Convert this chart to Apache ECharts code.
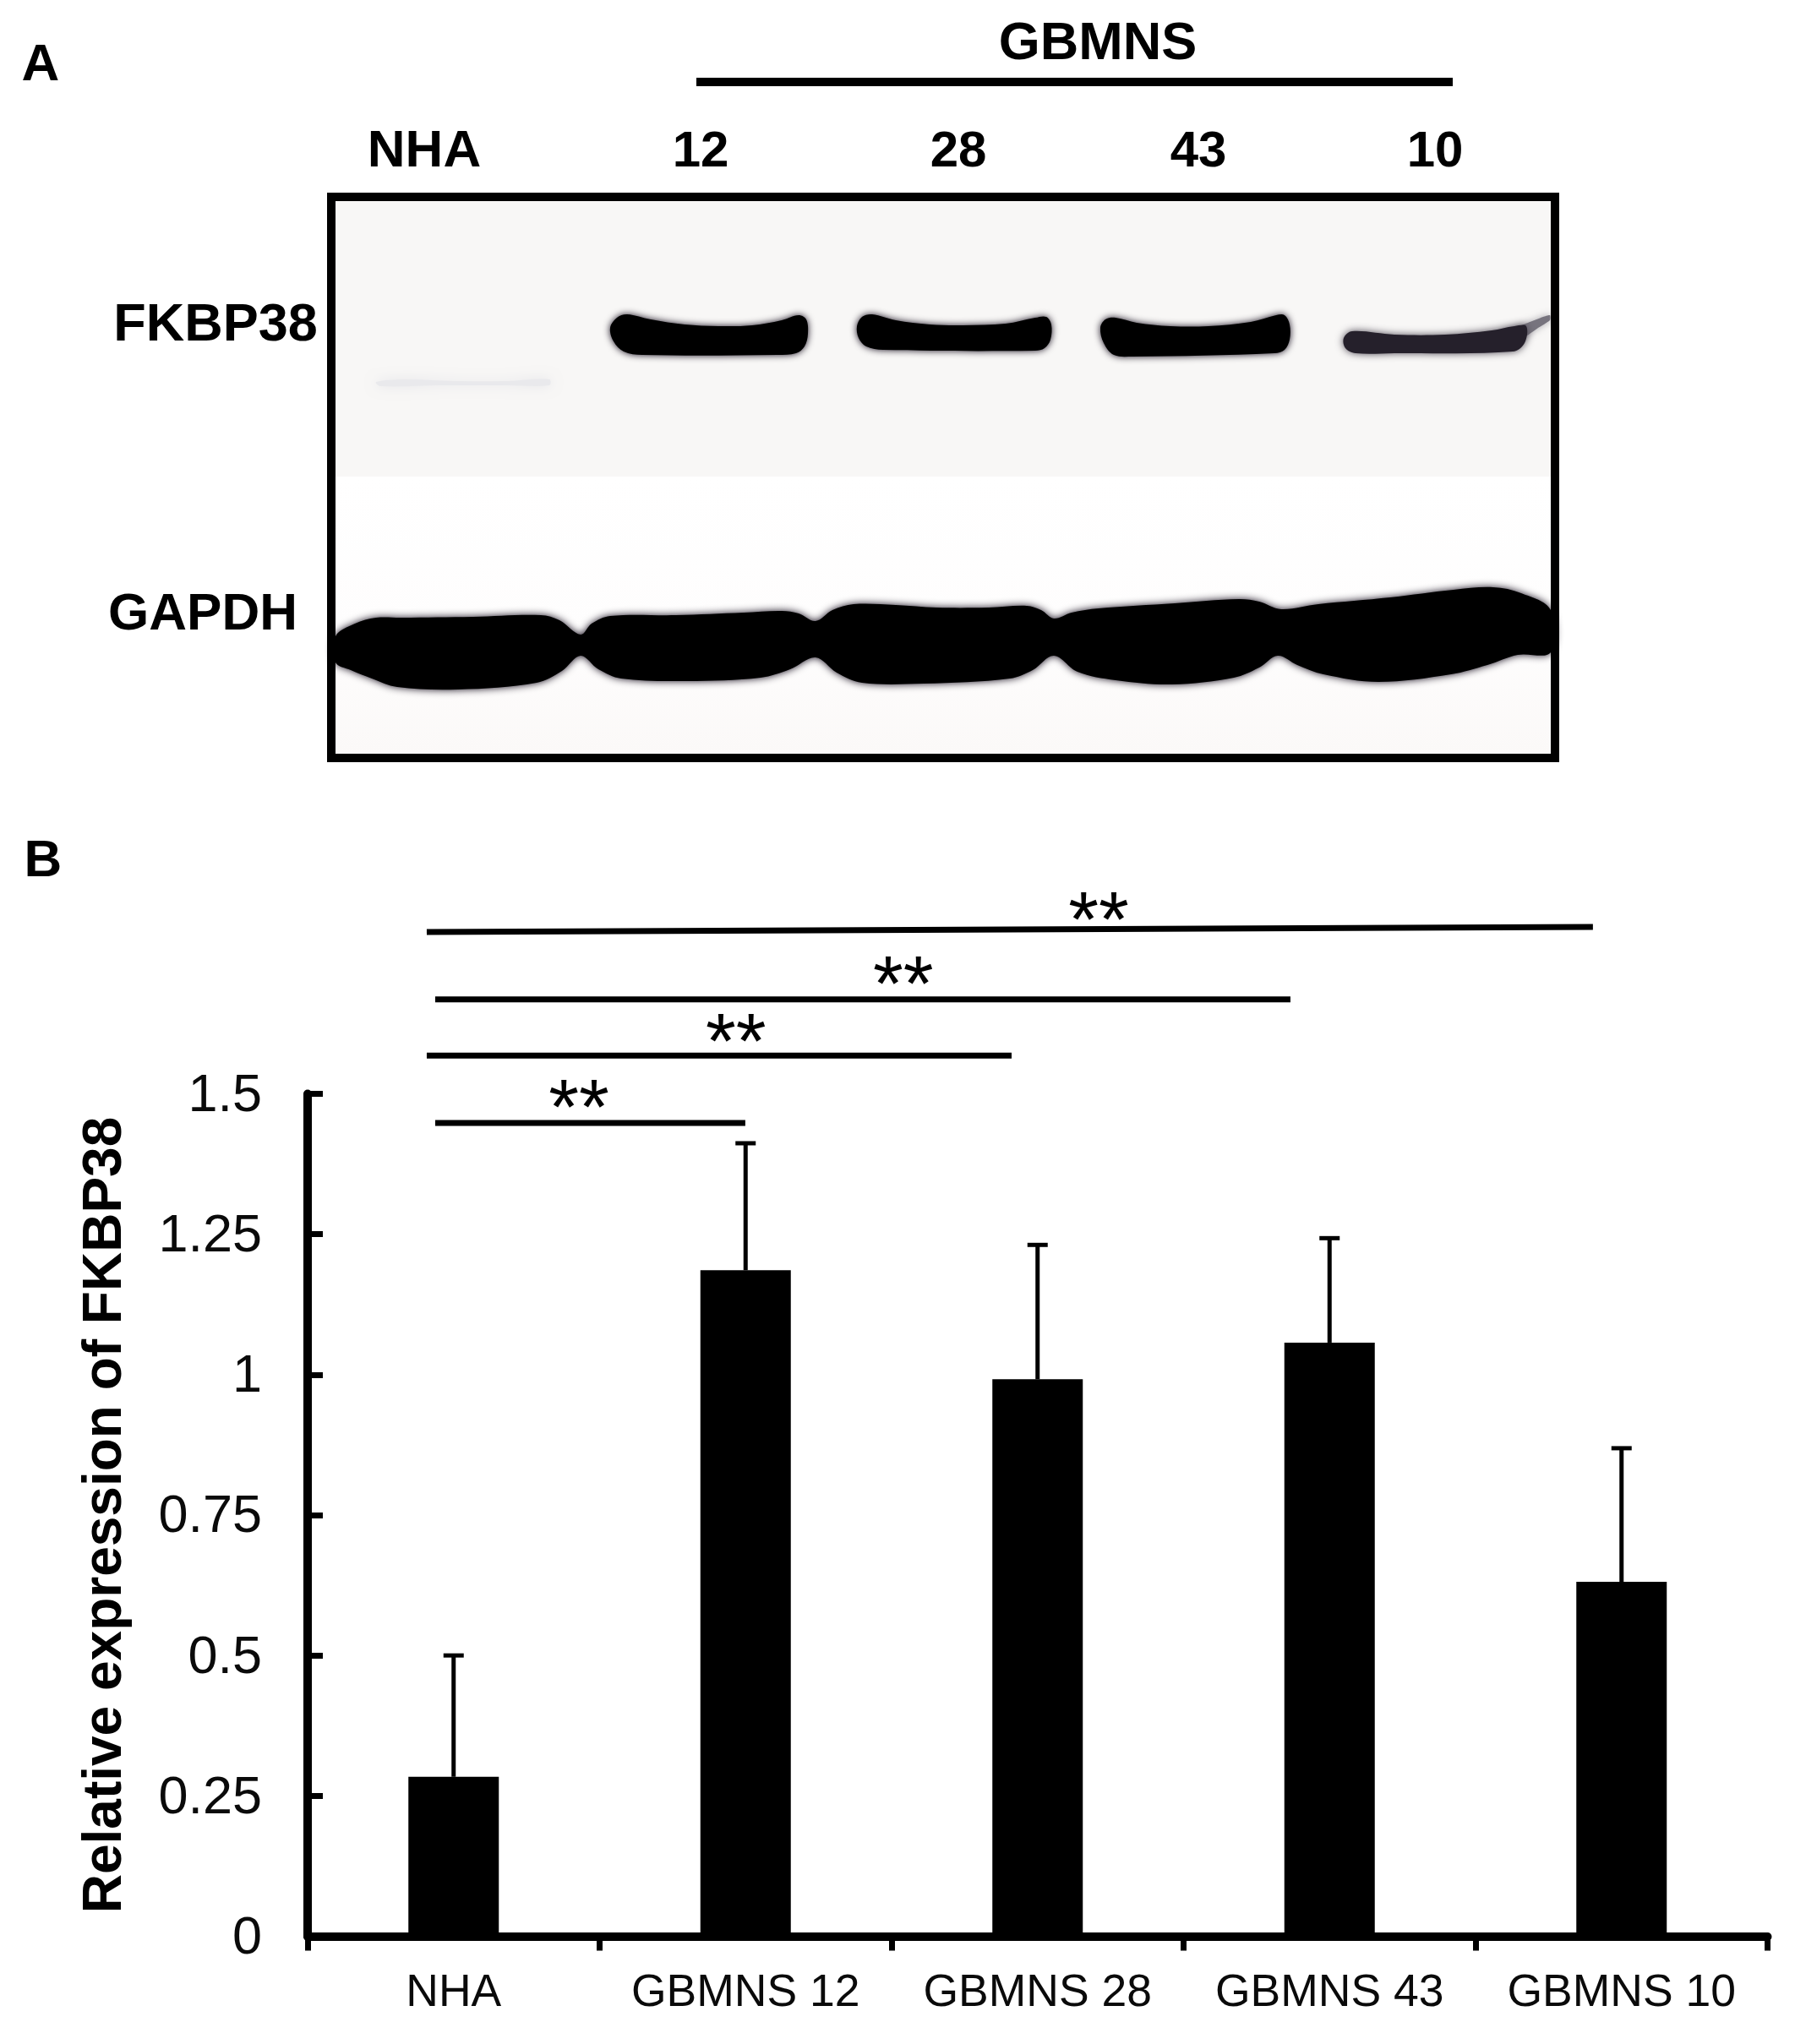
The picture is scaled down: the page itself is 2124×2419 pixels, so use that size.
<!DOCTYPE html>
<html><head><meta charset="utf-8">
<style>html,body{margin:0;padding:0;background:#fff}#c{width:2124px;height:2419px}</style>
<script src="https://cdn.jsdelivr.net/npm/echarts@6/dist/echarts.min.js"></script>
</head><body><div id="c"></div>
<script>
const categories = ['NHA','GBMNS 12','GBMNS 28','GBMNS 43','GBMNS 10'];
const means = [0.284,1.186,0.992,1.057,0.631];
const errorTops = [0.5,1.412,1.231,1.243,0.869];
const yTicks = {min:0,max:1.5,interval:0.25};
const sigStart = [0.437,0.408,0.437,0.408];
const sigEnd = [1.499,2.411,3.366,4.402];
const sigLevelStart = [1.448,1.568,1.668,1.788];
const sigLevelEnd = [1.448,1.568,1.668,1.797];
const sigStarX = [0.929,1.467,2.04,2.709];
const sigStarY = [1.5,1.617,1.719,1.834];
const sigLabel = ['**','**','**','**'];
const laneLabels = ['NHA','12','28','43','10'];
const FONT = '"Liberation Sans", Arial, sans-serif';

const chart = echarts.init(document.getElementById('c'), null, {renderer:'canvas'});

function boldText(text,x,y,size,align){
  return {type:'text',z:20,style:{text,x,y,font:'bold '+size+'px '+FONT,fill:'#000',textAlign:align||'center',textVerticalAlign:'middle'}};
}
function band(points,fill,blur,shadow,smooth){
  return {type:'polygon',z:5,shape:{points,smooth:smooth==null?0.35:smooth},style:{fill:fill||'#000',shadowBlur:blur==null?9:blur,shadowColor:shadow||'#140c1c'}};
}
const laneX = [502,829,1134,1418,1698];
const graphics = [
  {type:'rect',z:1,shape:{x:397,y:238,width:1438,height:326},style:{fill:'#f8f7f6'}},
  {type:'rect',z:1,shape:{x:397,y:564,width:1438,height:328},style:{fill:new echarts.graphic.LinearGradient(0,0,0,1,[{offset:0,color:'#ffffff'},{offset:0.6,color:'#fefdfd'},{offset:1,color:'#fbf9f8'}])}},
  band([[445,452],[480,449],[540,451],[600,451],[650,449],[650,456],[600,456],[520,456],[450,457]],'#e9e9ec',14,'#e4e4e8'),
  band([[722,388],[730,376],[742,372],[770,378],[810,384],[850,386],[890,385],[925,379],[945,373],[954,378],[956,395],[952,410],[942,418],[920,420],[760,420],[738,416],[726,404]]),
  band([[1014,386],[1020,375],[1032,372],[1060,379],[1100,384],[1140,385],[1190,383],[1225,376],[1238,375],[1244,384],[1243,402],[1236,412],[1225,415],[1045,414],[1025,410],[1016,400]]),
  band([[1302,388],[1308,378],[1320,376],[1345,382],[1385,386],[1430,386],[1480,381],[1510,373],[1520,373],[1526,384],[1526,402],[1520,414],[1508,418],[1340,422],[1318,420],[1306,406]]),
  // faded GBMNS 10 band, with a soft tail towards the edge
  band([[1785,392],[1808,382],[1826,375],[1834,373],[1834,379],[1820,388],[1802,400],[1785,402]],'#77747e',8,'#a8a6ac',0.2),
  band([[1590,400],[1600,392],[1650,396],[1710,396],[1765,391],[1792,386],[1806,386],[1804,406],[1790,416],[1650,418],[1604,418],[1592,412]],'#25202b',10,'#4a4450'),
  band([[397,753],[420,738],[445,731],[475,731],[560,730],[640,728],[662,734],[687,751],[700,738],[722,729],[800,728],[880,725],[925,723],[945,726],[965,735],[985,722],[1010,715],[1060,716],[1108,719],[1170,719],[1215,717],[1232,722],[1247,732],[1268,725],[1300,720],[1390,714],[1466,709],[1490,712],[1516,721],[1560,715],[1645,707],[1720,698],[1767,695],[1800,702],[1835,722],[1835,772],[1796,775],[1760,787],[1717,798],[1631,807],[1566,798],[1535,787],[1512,776],[1490,790],[1460,802],[1387,810],[1320,805],[1275,795],[1247,776],[1222,793],[1195,803],[1093,809],[1020,808],[990,796],[965,778],[935,792],[900,802],[813,806],[735,803],[708,792],[687,776],[665,794],[635,808],[542,816],[470,813],[440,803],[415,793],[397,784]],null,10),
  {type:'rect',z:9,shape:{x:392,y:233,width:1448,height:664},style:{fill:'none',stroke:'#000',lineWidth:10}},
  {type:'rect',z:10,shape:{x:824,y:92,width:895,height:10},style:{fill:'#000'}},
  boldText('A',48,78,62),
  boldText('B',51,1020,62),
  boldText('GBMNS',1299,53,63),
  boldText('FKBP38',255,386,63),
  boldText('GAPDH',240,728,62),
].concat(laneLabels.map((t,i)=>boldText(t,laneX[i],180,i?60:62)));

const errData = categories.map((c,i)=>[i,means[i],errorTops[i]]);
const sigData = sigStart.map((v,i)=>[v,sigEnd[i],sigLevelStart[i],sigLevelEnd[i],sigStarX[i],sigStarY[i]]);

chart.setOption({
  animation:false,
  backgroundColor:'#fff',
  graphic:{elements:graphics},
  grid:{left:364,right:32.5,top:1294.5,bottom:127.5,containLabel:false},
  xAxis:[{
    type:'category',data:categories,
    axisLine:{show:true,onZero:false,lineStyle:{color:'#000',width:10}},
    axisTick:{show:true,alignWithLabel:false,inside:false,length:17,lineStyle:{color:'#000',width:7}},
    axisLabel:{show:true,interval:0,color:'#0a0a0a',fontFamily:FONT,fontSize:53.5,margin:41,hideOverlap:false},
    splitLine:{show:false}
  },{
    type:'value',min:0,max:5,show:false,splitLine:{show:false}
  }],
  yAxis:{
    type:'value',min:yTicks.min,max:yTicks.max,interval:yTicks.interval,
    name:'Relative expression of FKBP38',nameLocation:'middle',nameGap:207,nameRotate:90,
    nameTextStyle:{color:'#000',fontFamily:FONT,fontWeight:'bold',fontSize:64},
    axisLine:{show:true,lineStyle:{color:'#000',width:10}},
    axisTick:{show:true,inside:true,length:18,lineStyle:{color:'#000',width:7}},
    axisLabel:{show:true,margin:54,showMinLabel:true,showMaxLabel:true,hideOverlap:false,
      formatter:v=>'{t|'+v+'}',
      rich:{t:{color:'#0a0a0a',fontFamily:FONT,fontSize:63,padding:[6,0,0,0]}}},
    splitLine:{show:false}
  },
  series:[
    {type:'bar',name:'FKBP38',data:means,barWidth:107,itemStyle:{color:'#000'},silent:true,z:3},
    {type:'custom',name:'SD',data:errData,z:2,silent:true,clip:false,
     encode:{x:0,y:[1,2]},
     renderItem(params,api){
       const c0=api.coord([api.value(0),api.value(1)]);
       const c1=api.coord([api.value(0),api.value(2)]);
       return {type:'group',children:[
         {type:'line',shape:{x1:c0[0],y1:c0[1],x2:c1[0],y2:c1[1]},style:{stroke:'#000',lineWidth:5}},
         {type:'line',shape:{x1:c1[0]-12,y1:c1[1],x2:c1[0]+12,y2:c1[1]},style:{stroke:'#000',lineWidth:5}}
       ]};
     }},
    {type:'custom',name:'Significance',xAxisIndex:1,data:sigData,z:4,silent:true,clip:false,
     encode:{x:[0,1,4],y:[2,3,5]},
     renderItem(params,api){
       const a=api.coord([api.value(0),api.value(2)]);
       const b=api.coord([api.value(1),api.value(3)]);
       const s=api.coord([api.value(4),api.value(5)]);
       return {type:'group',children:[
         {type:'line',shape:{x1:a[0],y1:a[1],x2:b[0],y2:b[1]},style:{stroke:'#000',lineWidth:7}},
         {type:'text',style:{text:sigLabel[params.dataIndex],x:s[0],y:s[1]+22,font:'92px '+FONT,fill:'#000',textAlign:'center',textVerticalAlign:'middle'}}
       ]};
     }}
  ]
});
</script></body></html>
